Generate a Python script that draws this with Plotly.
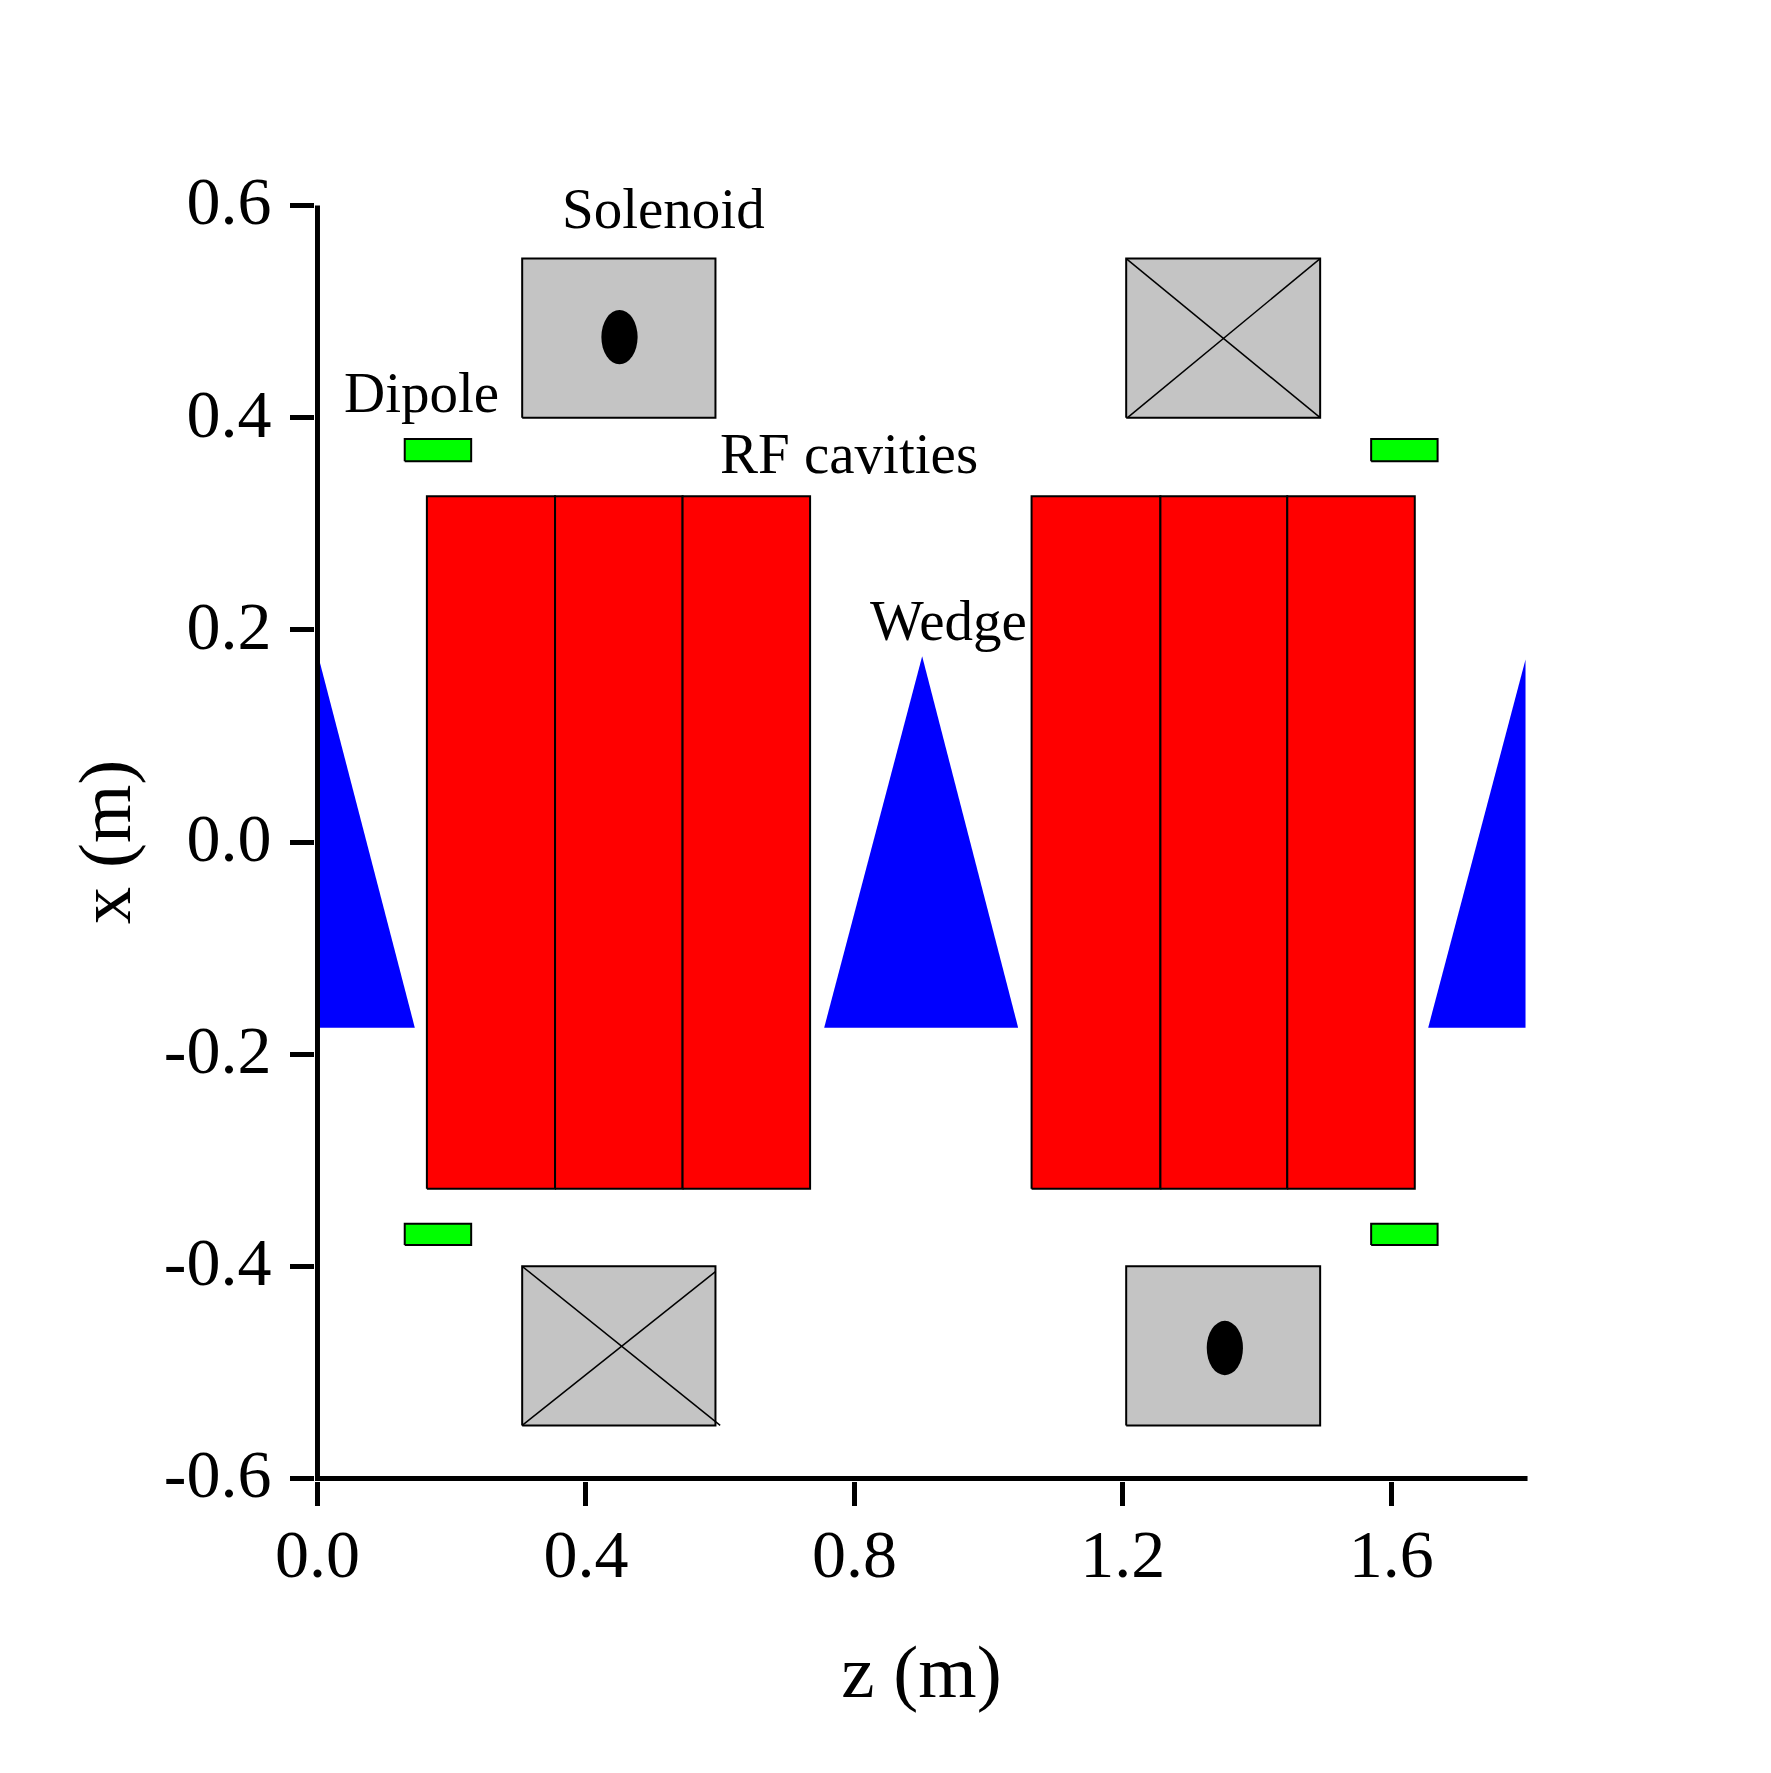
import plotly.graph_objects as go

FONT = "Liberation Serif"

# element outlines in metres: z along the beam, x across it
solenoid_top_z = [(0.305, 0.593), (1.205, 1.494)]
solenoid_bottom_z = [(0.305, 0.593), (1.205, 1.494)]
solenoid_top_x = (0.4, 0.55)
solenoid_bottom_x = (-0.55, -0.4)

dipole_z = [(0.13, 0.229), (1.57, 1.669)]
dipole_top_x = (0.359, 0.38)
dipole_bottom_x = (-0.38, -0.36)

cavity_edges_z = [
    [0.163, 0.354, 0.544, 0.734],
    [1.064, 1.256, 1.445, 1.635],
]
cavity_x = (-0.327, 0.326)

wedge_z = [
    [0.0, 0.0, 0.145],
    [0.755, 0.901, 1.044],
    [1.655, 1.8, 1.8],
]
wedge_x = [
    [-0.175, 0.178, -0.175],
    [-0.175, 0.175, -0.175],
    [-0.175, 0.172, -0.175],
]

# current direction marks
dot_z = [0.45, 1.352]
dot_x = [0.476, -0.477]
dot_radius_z = 0.027
dot_radius_x = 0.0256

cross_a_z = [[1.205, 1.494], [0.305, 0.6]]
cross_a_x = [[0.55, 0.4], [-0.4, -0.55]]
cross_b_z = [[1.207, 1.494], [0.305, 0.593]]
cross_b_x = [[0.4, 0.55], [-0.55, -0.405]]

x_tickvals = [0.0, 0.4, 0.8, 1.2, 1.6]
x_ticktext = ["0.0", "0.4", "0.8", "1.2", "1.6"]
y_tickvals = [0.6, 0.4, 0.2, 0.0, -0.2, -0.4, -0.6]
y_ticktext = ["0.6", "0.4", "0.2", "0.0", "-0.2", "-0.4", "-0.6"]

# the axis lines run through the first ticks, so they are drawn as a trace
# and the ranges get a little slack to keep the line from being clipped
axis_line_z = [0.0, 0.0, 1.803]
axis_line_x = [0.6, -0.6, -0.6]
x_range = [-0.0037, 1.8037]
y_range = [-0.6024, 0.6024]

label_text = ["Solenoid", "Dipole", "RF cavities", "Wedge"]
label_z = [0.515, 0.155, 0.792, 0.94]
label_x = [0.597, 0.424, 0.366, 0.209]


def rect(z_pair, x_pair, color):
    z0, z1 = z_pair
    x0, x1 = x_pair
    return go.Scatter(
        x=[z0, z1, z1, z0, z0],
        y=[x0, x0, x1, x1, x0],
        mode="lines",
        fill="toself",
        fillcolor=color,
        line=dict(color="black", width=2),
        hoverinfo="skip",
        showlegend=False,
    )


fig = go.Figure()

for z_pair in solenoid_top_z:
    fig.add_trace(rect(z_pair, solenoid_top_x, "#c4c4c4"))
for z_pair in solenoid_bottom_z:
    fig.add_trace(rect(z_pair, solenoid_bottom_x, "#c4c4c4"))

for z_pair in dipole_z:
    fig.add_trace(rect(z_pair, dipole_top_x, "#00ff00"))
    fig.add_trace(rect(z_pair, dipole_bottom_x, "#00ff00"))

for edges in cavity_edges_z:
    for i in range(len(edges) - 1):
        fig.add_trace(rect((edges[i], edges[i + 1]), cavity_x, "#ff0000"))

for zs, xs in zip(wedge_z, wedge_x):
    fig.add_trace(
        go.Scatter(
            x=zs + zs[:1],
            y=xs + xs[:1],
            mode="lines",
            fill="toself",
            fillcolor="#0000ff",
            line=dict(color="#0000ff", width=0),
            hoverinfo="skip",
            showlegend=False,
        )
    )

for zs, xs in zip(cross_a_z + cross_b_z, cross_a_x + cross_b_x):
    fig.add_trace(
        go.Scatter(
            x=zs,
            y=xs,
            mode="lines",
            line=dict(color="black", width=1.5),
            hoverinfo="skip",
            showlegend=False,
        )
    )

fig.add_trace(
    go.Scatter(
        x=axis_line_z,
        y=axis_line_x,
        mode="lines",
        line=dict(color="black", width=5),
        hoverinfo="skip",
        showlegend=False,
    )
)

for z, x in zip(dot_z, dot_x):
    fig.add_shape(
        type="circle",
        xref="x",
        yref="y",
        x0=z - dot_radius_z,
        x1=z + dot_radius_z,
        y0=x - dot_radius_x,
        y1=x + dot_radius_x,
        fillcolor="black",
        line=dict(color="black", width=0),
    )

for text, z, x in zip(label_text, label_z, label_x):
    fig.add_annotation(
        text=text,
        x=z,
        y=x,
        xref="x",
        yref="y",
        showarrow=False,
        font=dict(family=FONT, size=57, color="black"),
    )

axis_style = dict(
    showgrid=False,
    zeroline=False,
    showline=False,
    ticks="outside",
    ticklen=24,
    tickwidth=5,
    tickcolor="black",
    tickfont=dict(family=FONT, size=68, color="black"),
)

fig.update_layout(
    width=1771,
    height=1773,
    paper_bgcolor="white",
    plot_bgcolor="white",
    showlegend=False,
    margin=dict(l=307, r=251, t=195, b=300, autoexpand=False),
    xaxis=dict(
        range=x_range,
        tickmode="array",
        tickvals=x_tickvals,
        ticktext=x_ticktext,
        ticklabelstandoff=-11,
        title=dict(text="z (m)", font=dict(family=FONT, size=75, color="black"), standoff=53),
        **axis_style,
    ),
    yaxis=dict(
        range=y_range,
        tickmode="array",
        tickvals=y_tickvals,
        ticktext=y_ticktext,
        ticklabelstandoff=5,
        ticklabelshift=-5,
        title=dict(text="x (m)", font=dict(family=FONT, size=75, color="black"), standoff=8),
        **axis_style,
    ),
)

fig.write_html("out.html")
